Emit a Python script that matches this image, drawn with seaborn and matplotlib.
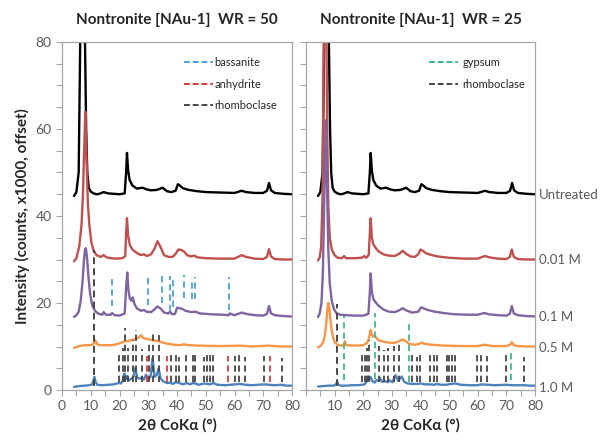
import matplotlib
matplotlib.use("Agg")
import matplotlib.pyplot as plt
from matplotlib.lines import Line2D
from matplotlib.ticker import MultipleLocator
import seaborn as sns

# ---------------- data ----------------
titles = ["Nontronite [NAu-1]  WR = 50", "Nontronite [NAu-1]  WR = 25"]
sample_labels = ["Untreated", "0.01 M", "0.1 M", "0.5 M", "1.0 M"]
sample_label_y = [45, 30, 17, 10, 0.7]

# Untreated (same sample in both panels)
untr_x = [4.2, 5, 5.8, 6.3, 6.8, 7.2, 7.6, 8.0, 8.4, 8.8, 9.3, 10, 11, 12, 13, 14.5, 16, 18, 20, 21.8,
          22.3, 22.6, 23.0, 23.5, 24.5, 26, 28, 29.5, 31, 33, 35, 36.5, 38, 39.5, 40.3, 41, 42, 44, 47,
          50, 55, 60, 62.5, 64, 67, 70, 71.3, 72, 72.7, 74, 77, 80]
untr_y = [44.6, 45.5, 50, 78, 110, 140, 110, 80, 60, 50, 46.5, 45.6, 45.2, 45.0, 45.1, 45.5, 45.2, 45.1,
          45.0, 45.2, 50, 54.5, 50.5, 48.3, 47.0, 46.3, 46.5, 46.1, 45.9, 46.0, 46.5, 45.7, 45.5, 45.8,
          47.3, 47.0, 46.4, 46.0, 45.7, 45.5, 45.4, 45.3, 45.8, 45.5, 45.3, 45.3, 45.8, 47.6, 45.9, 45.3,
          45.1, 45.0]

# WR = 50
w50_001_x = [4.2, 5, 6, 6.8, 7.3, 7.7, 8.1, 8.5, 9.0, 9.5, 10.2, 11, 12, 13.5, 14.5, 15.5, 17, 19, 21,
             22.0, 22.3, 22.6, 23.0, 23.6, 24.5, 26, 27.5, 28.5, 29.5, 31, 32.2, 33.2, 34.2, 35.5, 37,
             38.5, 39.5, 40.5, 41.5, 42.5, 43.5, 45, 46, 47, 50, 55, 60, 62.5, 64, 67, 70, 71.3, 72.0,
             72.7, 74, 77, 80]
w50_001_y = [29.6, 30.3, 33, 38, 45, 55, 64, 54, 43, 38, 34, 32, 31, 30.6, 31, 30.5, 30.3, 30.2, 30.3,
             30.8, 36, 39.5, 35.5, 33.3, 32.3, 31.5, 31.0, 31.2, 30.8, 31.2, 32.5, 34.2, 33.0, 31.0, 30.6,
             30.6, 31.3, 32.3, 32.2, 31.8, 31.0, 30.7, 30.9, 30.5, 30.3, 30.2, 30.2, 31.0, 30.6, 30.2,
             30.1, 30.6, 32.4, 30.7, 30.1, 30.0, 30.0]
w50_01_x = [4.2, 5, 5.8, 6.5, 7.1, 7.6, 8.0, 8.3, 8.7, 9.2, 9.8, 10.5, 11.5, 12.5, 14, 14.5, 15.3, 17,
            17.4, 18.3, 20, 21.8, 22.3, 22.7, 23.1, 23.6, 24.2, 24.6, 25.2, 26, 27.5, 28.5, 29.4, 31,
            32.3, 33.1, 34.2, 35.5, 37.0, 37.6, 38.3, 39.3, 40.0, 41, 42, 43, 45, 46.5, 48, 52, 56, 58,
            58.3, 60, 62.5, 64, 67, 70, 71.3, 72.0, 72.7, 74, 77, 80]
w50_01_y = [16.8, 17.2, 18, 20.5, 24.5, 29.5, 32.3, 32.6, 30.5, 26, 22, 19.5, 18.2, 17.6, 17.3, 17.9,
            17.3, 17.3, 17.7, 17.2, 17.1, 17.6, 23.5, 27.0, 23.0, 21.0, 20.5, 21.3, 19.8, 18.8, 18.2, 18.4,
            18.0, 17.9, 18.6, 19.2, 18.8, 17.8, 17.6, 18.0, 17.4, 17.5, 18.9, 18.8, 18.6, 18.2, 17.9, 18.0,
            17.6, 17.4, 17.3, 17.2, 17.6, 17.2, 17.8, 17.5, 17.2, 17.1, 17.5, 19.3, 17.6, 17.2, 17.0, 16.9]
w50_05_x = [4.2, 6, 8, 10, 11.0, 11.6, 12.2, 13, 15, 17, 19, 21, 23, 25, 26.5, 27.5, 28.2, 29, 30.5, 32,
            33.5, 35, 37, 39, 41, 42.5, 44, 48, 55, 62, 66, 72, 76, 80]
w50_05_y = [9.7, 10.1, 10.3, 10.3, 10.6, 11.4, 10.6, 10.3, 10.3, 10.3, 10.5, 11.0, 11.3, 11.6, 12.0,
            12.6, 12.0, 11.8, 11.6, 11.4, 11.2, 10.9, 10.6, 10.4, 10.3, 10.5, 10.3, 10.2, 10.1, 10.2,
            10.0, 10.2, 10.0, 10.0]
w50_1_x = [4.2, 6, 8, 9.5, 10.5, 11.0, 11.3, 11.7, 12.3, 14, 16, 18, 19.6, 20.5, 21.3, 21.7, 22.1, 22.6,
           23.2, 24.2, 24.8, 25.5, 26.2, 27.0, 27.8, 28.5, 29.2, 30, 30.8, 31.5, 32.2, 33.0, 33.6, 34.3,
           35.2, 36.5, 37.6, 38.5, 39.7, 40.8, 42, 43.4, 44.5, 45.5, 46.3, 47.5, 49.4, 50.5, 51.5, 52.6,
           54, 57, 60.2, 61.7, 63.9, 66, 70.3, 72, 74, 76.4, 78, 80]
w50_1_y = [0.7, 0.9, 1.0, 1.1, 1.3, 2.3, 3.0, 1.8, 1.2, 1.1, 1.2, 1.3, 1.6, 1.5, 2.3, 3.8, 2.4, 3.2, 2.2,
           2.6, 3.0, 5.0, 2.8, 2.6, 2.9, 2.4, 3.5, 2.5, 3.0, 7.3, 3.0, 3.5, 5.0, 2.6, 2.0, 1.6, 1.7, 1.4,
           1.8, 1.6, 1.3, 1.6, 1.3, 1.6, 1.5, 1.2, 1.5, 1.4, 1.3, 1.6, 1.2, 1.1, 1.3, 1.4, 1.2, 1.1, 1.3,
           1.2, 1.1, 1.2, 1.0, 1.0]

# WR = 25
w25_001_x = [4.2, 4.8, 5.3, 5.8, 6.2, 6.6, 7.0, 7.4, 7.8, 8.3, 9, 10, 11, 12.5, 13.3, 14, 17, 19.5, 20.3,
             21, 21.9, 22.3, 22.6, 23.0, 23.5, 24.5, 25.5, 27, 28, 29, 31, 32.5, 33.8, 35, 36.5, 38, 39.2,
             40.0, 40.8, 42, 44, 46, 50, 55, 60, 62.5, 64, 67, 70, 71.2, 71.9, 72.6, 74, 77, 80]
w25_001_y = [29.8, 30.5, 33, 45, 80, 120, 95, 60, 42, 35, 32.3, 31.0, 30.4, 30.3, 30.8, 30.3, 30.3, 30.4,
             30.8, 30.4, 31.0, 36, 39.5, 35, 33.5, 32.5, 31.8, 31.2, 31.0, 30.9, 30.8, 31.3, 32.0, 31.3,
             30.7, 30.6, 31.2, 32.3, 32.0, 31.4, 31.0, 30.7, 30.4, 30.2, 30.2, 30.8, 30.5, 30.2, 30.1,
             30.6, 32.3, 30.6, 30.1, 30.0, 30.0]
w25_01_x = [4.2, 4.8, 5.4, 5.9, 6.4, 6.9, 7.3, 7.8, 8.3, 9.0, 9.8, 10.7, 12, 14, 17, 20, 21.8, 22.3, 22.6,
            23.0, 23.6, 24.5, 25.5, 27, 29, 31, 32.5, 33.8, 35, 37, 39.2, 40.2, 41, 42.5, 45, 48, 52, 57,
            60, 62.3, 64, 67, 70, 71.2, 71.9, 72.6, 74, 77, 80]
w25_01_y = [16.8, 17.6, 20, 27, 45, 62, 48, 32, 24.5, 20.5, 18.5, 17.6, 17.3, 17.2, 17.1, 17.1, 17.5,
            22.5, 26.8, 22.5, 20.8, 20.0, 19.3, 18.5, 18.0, 17.9, 18.3, 18.8, 18.3, 17.8, 18.0, 19.0, 18.8,
            18.4, 18.0, 17.7, 17.4, 17.3, 17.3, 17.7, 17.4, 17.2, 17.1, 17.5, 19.3, 17.6, 17.2, 17.0, 16.9]
w25_05_x = [4.2, 5.2, 6.0, 6.6, 7.1, 7.5, 7.8, 8.2, 8.7, 9.3, 10, 11, 12.5, 13.3, 13.6, 14, 17, 20, 21.3,
            21.8, 22.3, 22.6, 23.0, 23.5, 24.0, 24.8, 25.5, 27, 29, 31, 32.5, 33.5, 34.5, 36, 38, 39.5,
            40.3, 41.5, 44, 48, 55, 60, 62.5, 65, 70, 71.3, 71.9, 72.6, 74, 77, 80]
w25_05_y = [9.8, 10.2, 11, 12.5, 15.5, 19, 20.0, 18.5, 15, 12.5, 11.0, 10.4, 10.2, 10.3, 11.2, 10.3,
            10.2, 10.3, 10.8, 11.5, 12.8, 13.8, 12.8, 12.2, 12.5, 11.8, 11.4, 11.1, 10.9, 10.8, 11.2, 11.6,
            11.4, 10.6, 10.4, 10.6, 10.9, 10.6, 10.4, 10.2, 10.1, 10.1, 10.4, 10.1, 10.1, 10.4, 11.0, 10.3,
            10.1, 10.0, 10.0]
w25_1_x = [4.2, 6, 8, 9.5, 10.4, 10.9, 11.4, 12, 14, 16, 18, 19.5, 20.5, 21.2, 21.7, 22.1, 22.5, 23.2,
           24.0, 24.6, 25.3, 25.8, 26.5, 27.6, 28.5, 29.2, 30.2, 31.3, 32.2, 33.4, 34.3, 35.5, 37, 38.9,
           40, 41.5, 43.2, 44.8, 45.6, 47, 49, 50.5, 52.2, 54, 57, 60, 61.3, 63.5, 66, 70, 72, 74, 76.5,
           78, 80]
w25_1_y = [0.8, 0.9, 1.0, 1.0, 1.2, 1.9, 1.2, 1.0, 1.0, 1.1, 1.1, 1.2, 1.3, 2.0, 3.1, 2.4, 3.0, 2.0, 1.7,
           2.3, 2.1, 2.8, 1.9, 2.0, 1.8, 2.2, 1.8, 3.4, 2.1, 3.1, 1.9, 1.5, 1.4, 1.4, 1.5, 1.3, 1.3, 1.2,
           1.4, 1.2, 1.2, 1.4, 1.5, 1.2, 1.1, 1.1, 1.3, 1.2, 1.1, 1.2, 1.1, 1.1, 1.1, 1.0, 1.0]

# reference peak positions (dashed markers)
rhomb_main_x = [11.3, 10.9]          # tall line, per panel
rhomb_main_top = [32.2, 19.7]
rhomb50_x = [19.8, 21.3, 21.9, 23.0, 24.6, 25.7, 27.7, 30.4, 31.5, 33.6, 37.8, 39.5, 40.7, 43.3, 45.4,
             46.3, 49.3, 50.4, 51.4, 52.5, 60.1, 61.6, 63.8, 70.3, 76.4]
rhomb50_top = [8.4, 9.6, 14.2, 9.6, 11.5, 13.8, 9.4, 11.1, 13.0, 12.6, 8.0, 8.0, 7.7, 8.4, 8.0, 8.0, 7.7,
               8.4, 8.0, 8.0, 7.8, 8.0, 7.5, 7.8, 7.3]
anhy50_x = [29.7, 36.6, 57.6, 72.2]
anhy50_top = [7.9, 7.8, 7.8, 7.8]
bass50_x = [17.3, 30.0, 34.9, 37.6, 38.5, 42.5, 45.1, 46.1, 58.2]
bass50_top = [26.0, 26.7, 26.8, 26.3, 25.4, 26.5, 25.8, 25.9, 26.0]
bass50_bot = [19.2, 19.5, 19.9, 18.2, 19.0, 21.2, 21.0, 21.0, 18.4]
rhomb25_x = [19.4, 20.6, 21.2, 22.0, 25.5, 27.2, 28.7, 30.8, 32.5, 37.1, 38.9, 39.7, 43.2, 44.8, 45.7,
             49.1, 50.0, 51.0, 52.0, 59.6, 61.3, 63.3, 70.0, 76.2]
rhomb25_top = [8.0, 8.8, 9.6, 11.6, 10.1, 9.2, 9.6, 10.1, 10.7, 8.0, 7.7, 8.0, 8.0, 8.0, 8.0, 8.0, 8.2,
               8.0, 8.2, 8.0, 8.2, 7.8, 8.0, 7.6]
gyp25_x = [13.4, 24.1, 36.1, 71.5]
gyp25_top = [16.9, 17.6, 15.9, 8.4]
gyp25_bot = [2.3, 2.5, 1.9, 2.2]
marker_bottom = 1.8

# ---------------- styling ----------------
sns.set_theme(style="white")
plt.rcParams["font.family"] = ["Lato", "DejaVu Sans"]

C_TRACE = ["#000000", "#C0504D", "#8064A2", "#F79646", "#4F81BD"]
C_BASS, C_ANHY, C_GYP, C_RHOMB = "#4BA3D6", "#DC3B3B", "#3CBB8C", "#454545"
SPINE = "#A6A6A6"
TICKC = "#595959"
DASH = (0, (3.5, 2.2))

fig = plt.figure(figsize=(6.0, 4.4), dpi=100)
ax_l = fig.add_axes([62 / 600, 1 - 390 / 440, 230 / 600, 348 / 440])
ax_r = fig.add_axes([306 / 600, 1 - 390 / 440, 229 / 600, 348 / 440])

panels = [
    (ax_l, [(untr_x, untr_y), (w50_001_x, w50_001_y), (w50_01_x, w50_01_y), (w50_05_x, w50_05_y), (w50_1_x, w50_1_y)]),
    (ax_r, [(untr_x, untr_y), (w25_001_x, w25_001_y), (w25_01_x, w25_01_y), (w25_05_x, w25_05_y), (w25_1_x, w25_1_y)]),
]

for i, (ax, traces) in enumerate(panels):
    for (x, y), c in zip(traces, C_TRACE):
        sns.lineplot(x=x, y=y, ax=ax, color=c, lw=1.7, sort=False, estimator=None)
    ax.set_xlim(0, 80)
    ax.set_ylim(0, 80)
    ax.xaxis.set_major_locator(MultipleLocator(10))
    ax.xaxis.set_minor_locator(MultipleLocator(5))
    ax.yaxis.set_major_locator(MultipleLocator(20))
    ax.yaxis.set_minor_locator(MultipleLocator(5))
    ax.tick_params(axis="both", which="both", direction="out", color=SPINE, labelcolor=TICKC,
                   labelsize=10, bottom=True, left=True)
    ax.tick_params(which="major", length=4, width=0.8)
    ax.tick_params(which="minor", length=4, width=0.8)
    for s in ax.spines.values():
        s.set_color(SPINE)
        s.set_linewidth(0.9)
    ax.set_title(titles[i], fontsize=11, fontweight="bold", pad=13)
    ax.set_xlabel("2θ CoKα (°)", fontsize=11, fontweight="bold", labelpad=4)
    ax.set_ylabel("")

# tall rhomboclase lines
ax_l.vlines([rhomb_main_x[0]], marker_bottom - 0.8, rhomb_main_top[0], colors=C_RHOMB, linestyles=DASH, lw=1.4)
ax_r.vlines([rhomb_main_x[1]], marker_bottom - 0.8, rhomb_main_top[1], colors=C_RHOMB, linestyles=DASH, lw=1.4)

# WR = 50 markers
ax_l.vlines(rhomb50_x, marker_bottom, rhomb50_top, colors=C_RHOMB, linestyles=DASH, lw=1.3)
ax_l.vlines(anhy50_x, marker_bottom, anhy50_top, colors=C_ANHY, linestyles=DASH, lw=1.3)
ax_l.vlines(bass50_x, bass50_bot, bass50_top, colors=C_BASS, linestyles=DASH, lw=1.3)
# WR = 25 markers
ax_r.vlines(rhomb25_x, marker_bottom, rhomb25_top, colors=C_RHOMB, linestyles=DASH, lw=1.3)
ax_r.vlines(gyp25_x, gyp25_bot, gyp25_top, colors=C_GYP, linestyles=DASH, lw=1.3)

# legends
def leg_handle(c):
    return Line2D([0], [0], color=c, lw=1.4, linestyle=(0, (3, 1.5)))

ax_l.legend([leg_handle(C_BASS), leg_handle(C_ANHY), leg_handle(C_RHOMB)],
            ["bassanite", "anhydrite", "rhomboclase"], loc="upper right",
            bbox_to_anchor=(0.98, 0.985), frameon=False, fontsize=8, handlelength=2.6,
            handletextpad=0.15, labelspacing=0.95)
ax_r.legend([leg_handle(C_GYP), leg_handle(C_RHOMB)], ["gypsum", "rhomboclase"], loc="upper right",
            bbox_to_anchor=(1.0, 0.985), frameon=False, fontsize=8, handlelength=2.6,
            handletextpad=0.4, labelspacing=0.95)

# axis labels / ticks
ax_l.set_xticks(range(0, 81, 10))
ax_l.set_ylabel("Intensity (counts, x1000, offset)", fontsize=11, fontweight="bold", labelpad=4)
ax_r.set_xticks(range(0, 81, 10))
ax_r.set_xticklabels([""] + [str(v) for v in range(10, 81, 10)])
ax_r.tick_params(axis="y", labelleft=False)

# sample labels on the right side of right panel
ax_t = ax_r.twinx()
ax_t.set_ylim(0, 80)
ax_t.set_yticks(sample_label_y)
ax_t.set_yticklabels(sample_labels)
ax_t.tick_params(axis="y", length=0, labelsize=9.5, labelcolor=TICKC, pad=3)
ax_t.grid(False)
for s in ax_t.spines.values():
    s.set_visible(False)

fig.savefig("out.png", dpi=100)
